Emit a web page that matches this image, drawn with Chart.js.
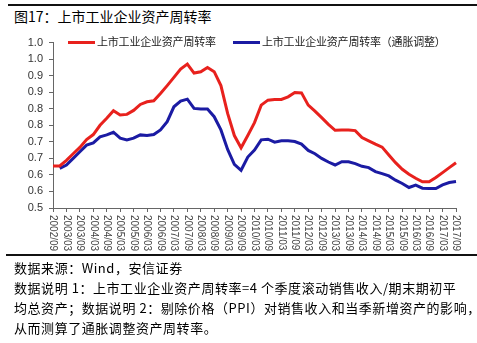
<!DOCTYPE html>
<html>
<head>
<meta charset="utf-8">
<script src="https://cdn.jsdelivr.net/npm/chart.js@4.4.0/dist/chart.umd.min.js"></script>
<style>
    html, body { margin: 0; padding: 0; background: #fff; }
    body { width: 477px; height: 343px; position: relative; overflow: hidden;
           font-family: "Noto Sans CJK SC", "Noto Sans", sans-serif; color: #000; }
    .rule { position: absolute; left: 8px; right: 0; background: #111; }
    #title { position: absolute; left: 14px; top: 6px; font-size: 14px; letter-spacing: 0; white-space: nowrap; }
    #chartBox { position: absolute; left: 0; top: 30px; width: 477px; height: 225px; }
    .legend { position: absolute; top: 33px; font-size: 11px; color: #222; white-space: nowrap; line-height: 16px; letter-spacing: -0.2px; }
    .legend i { display: inline-block; width: 27px; height: 3px; vertical-align: middle; margin-right: 2px; position: relative; top: -1px; }
    .note { position: absolute; left: 14px; font-size: 13px; white-space: nowrap; line-height: 18px; letter-spacing: 0.55px; }
</style>
</head>
<body>
<div class="rule" style="top:4px;height:2px;"></div>
<div id="title">图17：上市工业企业资产周转率</div>
<div id="chartBox"><canvas id="turnoverChart" width="477" height="225"></canvas></div>
<div class="legend" style="left:68px;"><i style="background:#e8211d"></i>上市工业企业资产周转率</div>
<div class="legend" style="left:233px;"><i style="background:#1b1ba3"></i>上市工业企业资产周转率（通胀调整）</div>
<div class="rule" style="top:254px;height:2px;left:6px;"></div>
<div class="note" style="top:259px;">数据来源：Wind，安信证券</div>
<div class="note" style="top:279px;">数据说明 1：上市工业企业资产周转率=4 个季度滚动销售收入/期末期初平</div>
<div class="note" style="top:299px;">均总资产；数据说明 2：剔除价格（PPI）对销售收入和当季新增资产的影响，</div>
<div class="note" style="top:319px;">从而测算了通胀调整资产周转率。</div>

<script>
// quarterly categories
const quarters = [
    '2002/09', '2002/12', '2003/03', '2003/06', '2003/09', '2003/12',
    '2004/03', '2004/06', '2004/09', '2004/12', '2005/03', '2005/06',
    '2005/09', '2005/12', '2006/03', '2006/06', '2006/09', '2006/12',
    '2007/03', '2007/06', '2007/09', '2007/12', '2008/03', '2008/06',
    '2008/09', '2008/12', '2009/03', '2009/06', '2009/09', '2009/12',
    '2010/03', '2010/06', '2010/09', '2010/12', '2011/03', '2011/06',
    '2011/09', '2011/12', '2012/03', '2012/06', '2012/09', '2012/12',
    '2013/03', '2013/06', '2013/09', '2013/12', '2014/03', '2014/06',
    '2014/09', '2014/12', '2015/03', '2015/06', '2015/09', '2015/12',
    '2016/03', '2016/06', '2016/09', '2016/12', '2017/03', '2017/06',
    '2017/09'
];

// labels shown under the x axis (every other quarter)
const xTickLabels = [
    '2002/09', '2003/03', '2003/09', '2004/03', '2004/09', '2005/03',
    '2005/09', '2006/03', '2006/09', '2007/03', '2007/09', '2008/03',
    '2008/09', '2009/03', '2009/09', '2010/03', '2010/09', '2011/03',
    '2011/09', '2012/03', '2012/09', '2013/03', '2013/09', '2014/03',
    '2014/09', '2015/03', '2015/09', '2016/03', '2016/09', '2017/03',
    '2017/09'
];

// y tick labels as printed (0.5 .. 1.0 in steps of 0.05, one decimal)
const yTickLabels = ['0.5', '0.6', '0.6', '0.7', '0.7', '0.8', '0.8', '0.9', '0.9', '1.0', '1.0'];

const seriesNames = ['上市工业企业资产周转率', '上市工业企业资产周转率（通胀调整）'];

const turnover = [
    0.627, 0.627, 0.644, 0.664, 0.683, 0.707, 0.722, 0.750, 0.771, 0.794,
    0.781, 0.783, 0.795, 0.813, 0.821, 0.824, 0.846, 0.870, 0.895, 0.920,
    0.935, 0.908, 0.912, 0.925, 0.912, 0.870, 0.786, 0.719, 0.682, 0.719,
    0.758, 0.811, 0.826, 0.828, 0.828, 0.836, 0.849, 0.848, 0.811, 0.793,
    0.773, 0.753, 0.735, 0.736, 0.736, 0.734, 0.713, 0.703, 0.693, 0.684,
    0.660, 0.637, 0.617, 0.602, 0.590, 0.579, 0.579, 0.592, 0.607, 0.622,
    0.637
];

const turnoverAdjusted = [
    null,  0.620, 0.630, 0.650, 0.670, 0.690, 0.697, 0.715, 0.721, 0.729,
    0.711, 0.706, 0.711, 0.721, 0.719, 0.722, 0.736, 0.761, 0.806, 0.823,
    0.829, 0.801, 0.799, 0.799, 0.776, 0.736, 0.677, 0.632, 0.614, 0.654,
    0.675, 0.706, 0.708, 0.699, 0.703, 0.703, 0.701, 0.693, 0.674, 0.664,
    0.650, 0.639, 0.630, 0.640, 0.640, 0.634, 0.626, 0.622, 0.610, 0.604,
    0.597, 0.584, 0.574, 0.562, 0.569, 0.560, 0.559, 0.559, 0.570, 0.577,
    0.580
];

// draws the x labels rotated clockwise (reading top to bottom)
const verticalLabels = {
    id: 'verticalLabels',
    afterDraw(chart) {
        const scale = chart.scales.x;
        const ctx = chart.ctx;
        ctx.save();
        ctx.font = '10px "Liberation Sans", Arial, sans-serif';
        ctx.fillStyle = '#444';
        ctx.textAlign = 'left';
        ctx.textBaseline = 'middle';
        xTickLabels.forEach((label) => {
            const idx = quarters.indexOf(label);
            const x = scale.getPixelForValue(idx);
            ctx.save();
            ctx.translate(x, scale.top + 7);
            ctx.rotate(Math.PI / 2);
            ctx.fillText(label, 0, 0);
            ctx.restore();
        });
        ctx.restore();
    }
};

const axisColor = '#666';

new Chart(document.getElementById('turnoverChart'), {
    type: 'line',
    data: {
        labels: quarters,
        datasets: [
            {
                label: seriesNames[0],
                data: turnover,
                borderColor: '#e8211d',
                borderWidth: 3,
                pointRadius: 0,
                tension: 0
            },
            {
                label: seriesNames[1],
                data: turnoverAdjusted,
                borderColor: '#1b1ba3',
                borderWidth: 3,
                pointRadius: 0,
                tension: 0
            }
        ]
    },
    options: {
        responsive: false,
        animation: false,
        layout: { padding: { top: 11, right: 21, left: 0, bottom: 0 } },
        plugins: {
            legend: { display: false },
            tooltip: { enabled: false }
        },
        scales: {
            x: {
                ticks: { display: false, autoSkip: false },
                grid: {
                    drawOnChartArea: false,
                    tickLength: 4,
                    tickColor: (c) => (c.index % 2 === 0 ? axisColor : 'rgba(0,0,0,0)')
                },
                border: { color: axisColor },
                afterFit: (scale) => { scale.height = 47; }
            },
            y: {
                min: 0.5,
                max: 1.0,
                ticks: {
                    stepSize: 0.05,
                    padding: 6,
                    color: '#333',
                    font: { size: 11, family: '"Liberation Sans", Arial, sans-serif' },
                    callback: (value, index) => yTickLabels[index] ?? value.toFixed(1)
                },
                grid: { drawOnChartArea: false, tickLength: 4, color: axisColor },
                border: { color: axisColor },
                afterFit: (scale) => { scale.width = 53; }
            }
        }
    },
    plugins: [verticalLabels]
});
</script>
</body>
</html>
